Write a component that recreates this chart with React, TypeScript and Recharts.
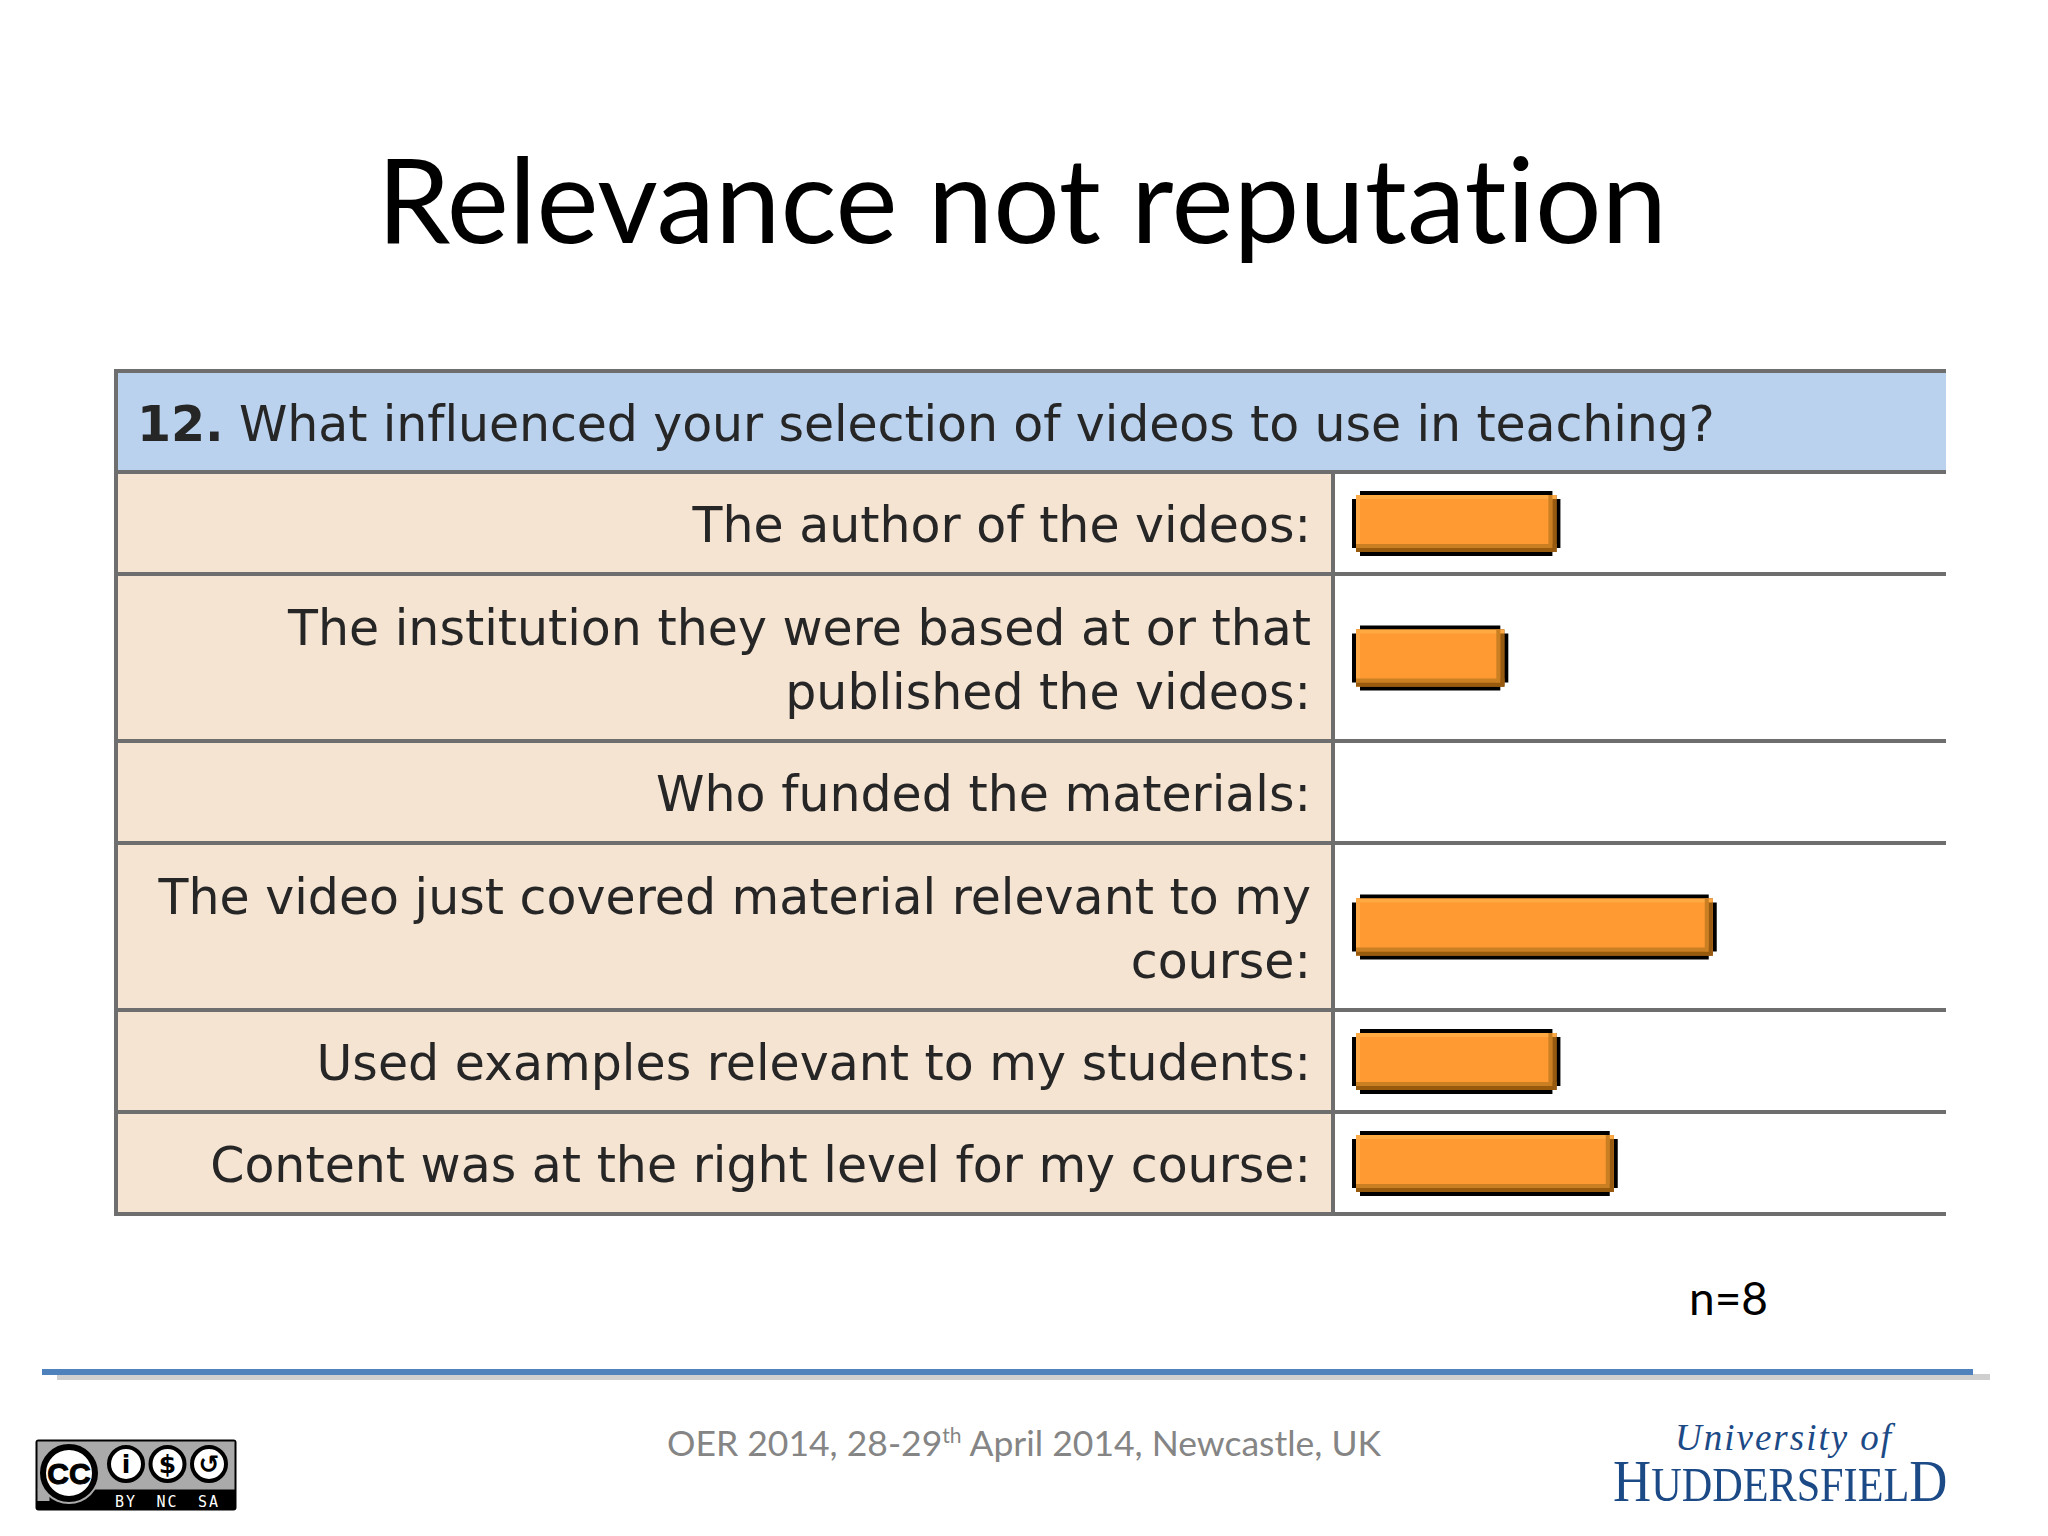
import React from "react";
import { BarChart, Bar, XAxis, YAxis } from "recharts";

const titleText = "Relevance not reputation";
const questionNumber = "12.";
const questionText = "What influenced your selection of videos to use in teaching?";
const categories = [
  ["The author of the videos:"],
  ["The institution they were based at or that", "published the videos:"],
  ["Who funded the materials:"],
  ["The video just covered material relevant to my", "course:"],
  ["Used examples relevant to my students:"],
  ["Content was at the right level for my course:"],
];
const responses = [4, 3, 0, 7, 4, 5.1];
const axisMax = 11.4;
const sampleNote = "n=8";
const footerBefore = "OER 2014, 28-29";
const footerSup = "th";
const footerAfter = " April 2014, Newcastle, UK";

const SINGLE_ROW = 102;
const DOUBLE_ROW = 167;
const rowHeights = categories.map((c) => (c.length > 1 ? DOUBLE_ROW : SINGLE_ROW));
const total = rowHeights.reduce((a, b) => a + b, 0);
let cursor = 0;
const data = categories.map((lines, i) => {
  const center = cursor + rowHeights[i] / 2;
  const top = cursor;
  cursor += rowHeights[i];
  return { lines, top, center, value: responses[i] };
});

const TABLE_L = 115;
const TABLE_R = 1946;
const TABLE_T = 371;
const HEAD_B = 472;
const SEP_X = 1333;
const BAR_X = 1352;
const GREY = "#6e6e6e";
const TEXT_FONT = "'DejaVu Sans', Verdana, sans-serif";
const TITLE_FONT = "Lato, 'Open Sans', sans-serif";
const TEXT_SIZE = 49;

const RowLabel = (props: any) => {
  const { y, index } = props;
  const lines: string[] = data[index].lines;
  const step = 64;
  return (
    <text
      textAnchor="end"
      fontFamily={TEXT_FONT}
      fontSize={TEXT_SIZE}
      fill="#262626"
      style={{ filter: "blur(0.6px)" }}
    >
      {lines.map((l, i) => (
        <tspan key={i} x={1311} y={y + 19 + (i - (lines.length - 1) / 2) * step}>
          {l}
        </tspan>
      ))}
    </text>
  );
};

const BevelBar = (props: any) => {
  const { x, y, width, height } = props;
  if (!width || width <= 0) return null;
  const s = 4;
  const r = x + width;
  const b = y + height;
  const outline = `M${x + 2 * s},${y} H${r - 2 * s} V${y + s} H${r - s} V${y + 2 * s} H${r} V${b - 2 * s} H${r - s} V${b - s} H${r - 2 * s} V${b} H${x + 2 * s} V${b - s} H${x + s} V${b - 2 * s} H${x} V${y + 2 * s} H${x + s} V${y + s} H${x + 2 * s} Z`;
  const il = x + s;
  const ir = r - s;
  const it = y + s;
  const ib = b - s;
  return (
    <g>
      <path d={outline} fill="#000" />
      <rect x={il} y={it} width={ir - il} height={ib - it} fill="#ff9a33" />
      <rect x={il} y={it} width={s} height={ib - it} fill="#ffa744" />
      <rect x={il} y={it} width={ir - il} height={s} fill="#ffa943" />
      <rect x={il} y={ib - 2 * s} width={ir - il} height={s} fill="#c97f22" />
      <rect x={il} y={ib - s} width={ir - il} height={s} fill="#985a0c" />
      <rect x={ir - 2 * s} y={it} width={s} height={ib - it - s} fill="#c97f22" />
      <rect x={ir - s} y={it + s} width={s} height={ib - it - s} fill="#965a10" />
    </g>
  );
};

const abs = (left: number, top: number, width: number, height: number, background: string): React.CSSProperties => ({
  position: "absolute",
  left,
  top,
  width,
  height,
  background,
});

export default function App() {
  return (
    <div style={{ position: "absolute", left: 0, top: 0, width: 2048, height: 1536, background: "#fff", overflow: "hidden" }}>
      <div
        style={{
          position: "absolute",
          left: -2,
          width: 2048,
          top: 123,
          textAlign: "center",
          fontFamily: TITLE_FONT,
          fontSize: 117.5,
          lineHeight: "150px",
          color: "#000",
          whiteSpace: "nowrap",
          fontVariantLigatures: "none",
        }}
      >
        {titleText}
      </div>

      {/* table frame */}
      <div style={abs(TABLE_L, TABLE_T, TABLE_R - TABLE_L, HEAD_B - TABLE_T, "#bad2ee")} />
      <div style={abs(TABLE_L, HEAD_B, SEP_X - TABLE_L, total, "#f6e4d3")} />
      <div style={abs(TABLE_L, TABLE_T - 2, TABLE_R - TABLE_L, 4, GREY)} />
      <div style={abs(TABLE_L - 1, TABLE_T - 2, 4, HEAD_B + total - TABLE_T + 4, GREY)} />
      <div style={abs(SEP_X - 2, HEAD_B, 4, total, GREY)} />
      <div style={abs(TABLE_L, HEAD_B - 2, TABLE_R - TABLE_L, 4, GREY)} />
      {data.map((d, i) => (
        <div key={i} style={abs(TABLE_L, HEAD_B + d.top + rowHeights[i] - 2, TABLE_R - TABLE_L, 4, GREY)} />
      ))}
      <div
        style={{
          position: "absolute",
          left: 137,
          top: 395,
          fontFamily: TEXT_FONT,
          fontSize: TEXT_SIZE,
          lineHeight: "60px",
          letterSpacing: -0.1,
          color: "#262626",
          whiteSpace: "nowrap",
          filter: "blur(0.6px)",
        }}
      >
        <b>{questionNumber}</b> {questionText}
      </div>

      <div style={{ position: "absolute", left: 0, top: 0 }}>
        <BarChart
          width={2048}
          height={1536}
          layout="vertical"
          data={data}
          margin={{ top: HEAD_B, right: 2048 - TABLE_R, bottom: 1536 - HEAD_B - total, left: 0 }}
          style={{ background: "transparent" }}
        >
          <XAxis type="number" domain={[0, axisMax]} hide />
          <YAxis
            type="number"
            dataKey="center"
            domain={[0, total]}
            ticks={data.map((d) => d.center)}
            interval={0}
            width={BAR_X}
            axisLine={false}
            tickLine={false}
            tick={<RowLabel />}
          />
          <Bar dataKey="value" barSize={65} isAnimationActive={false} shape={<BevelBar />} />
        </BarChart>
      </div>

      <div style={{ position: "absolute", left: 1689, top: 1268, fontFamily: TITLE_FONT, fontSize: 46, lineHeight: "60px", color: "#000" }}>
        {sampleNote}
      </div>

      {/* footer rule */}
      <div style={abs(57, 1374, 1933, 6, "#cfcfcf")} />
      <div style={abs(42, 1369, 1931, 6, "#4f81bd")} />
      <div
        style={{
          position: "absolute",
          left: 667,
          top: 1420,
          fontFamily: TITLE_FONT,
          fontSize: 35.5,
          lineHeight: "46px",
          color: "#858585",
          whiteSpace: "nowrap",
        }}
      >
        {footerBefore}
        <sup style={{ fontSize: 21, lineHeight: 0 }}>{footerSup}</sup>
        {footerAfter}
      </div>

      {/* licence badge */}
      <svg style={{ position: "absolute", left: 35, top: 1439 }} width={202} height={73}>
        <rect x={0.5} y={0.5} width={201} height={71} rx={3} fill="#000" />
        <rect x={2.5} y={2.5} width={197} height={48} fill="#a9aaa9" />
        <rect x={2.5} y={50} width={12} height={12} fill="#a9aaa9" />
        <circle cx={34} cy={34} r={31} fill="#a9aaa9" />
        <circle cx={34} cy={34} r={26} fill="#fff" stroke="#000" strokeWidth={6} />
        <text x={34} y={45} textAnchor="middle" fontFamily="'Liberation Sans'" fontWeight={700} fontSize={30} stroke="#000" strokeWidth={1} fill="#000">CC</text>
        {["i", "$", "↺"].map((g, i) => (
          <g key={g}>
            <circle cx={91 + i * 41.5} cy={25} r={17} fill="#fff" stroke="#000" strokeWidth={4} />
            <text x={91 + i * 41.5} y={34} textAnchor="middle" fontFamily="'DejaVu Sans'" fontWeight={700} fontSize={25} fill="#000">{g}</text>
          </g>
        ))}
        {["BY", "NC", "SA"].map((g, i) => (
          <text key={g} x={91 + i * 41.5} y={68} textAnchor="middle" fontFamily="'DejaVu Sans Mono'" fontSize={15} letterSpacing={2} fill="#fff">{g}</text>
        ))}
      </svg>

      {/* university mark */}
      <div style={{ position: "absolute", left: 1675, top: 1416, fontFamily: "'Liberation Serif', serif", fontStyle: "italic", fontSize: 37, lineHeight: "44px", letterSpacing: 2, color: "#1c4a86", whiteSpace: "nowrap" }}>
        University of
      </div>
      <div style={{ position: "absolute", left: 1613, top: 1449, fontFamily: "'Liberation Serif', serif", fontSize: 60, lineHeight: "64px", color: "#1c4a86", whiteSpace: "nowrap", transform: "scaleX(0.88)", transformOrigin: "left" }}>
        H<span style={{ fontSize: 48 }}>UDDERSFIEL</span>D
      </div>
    </div>
  );
}
